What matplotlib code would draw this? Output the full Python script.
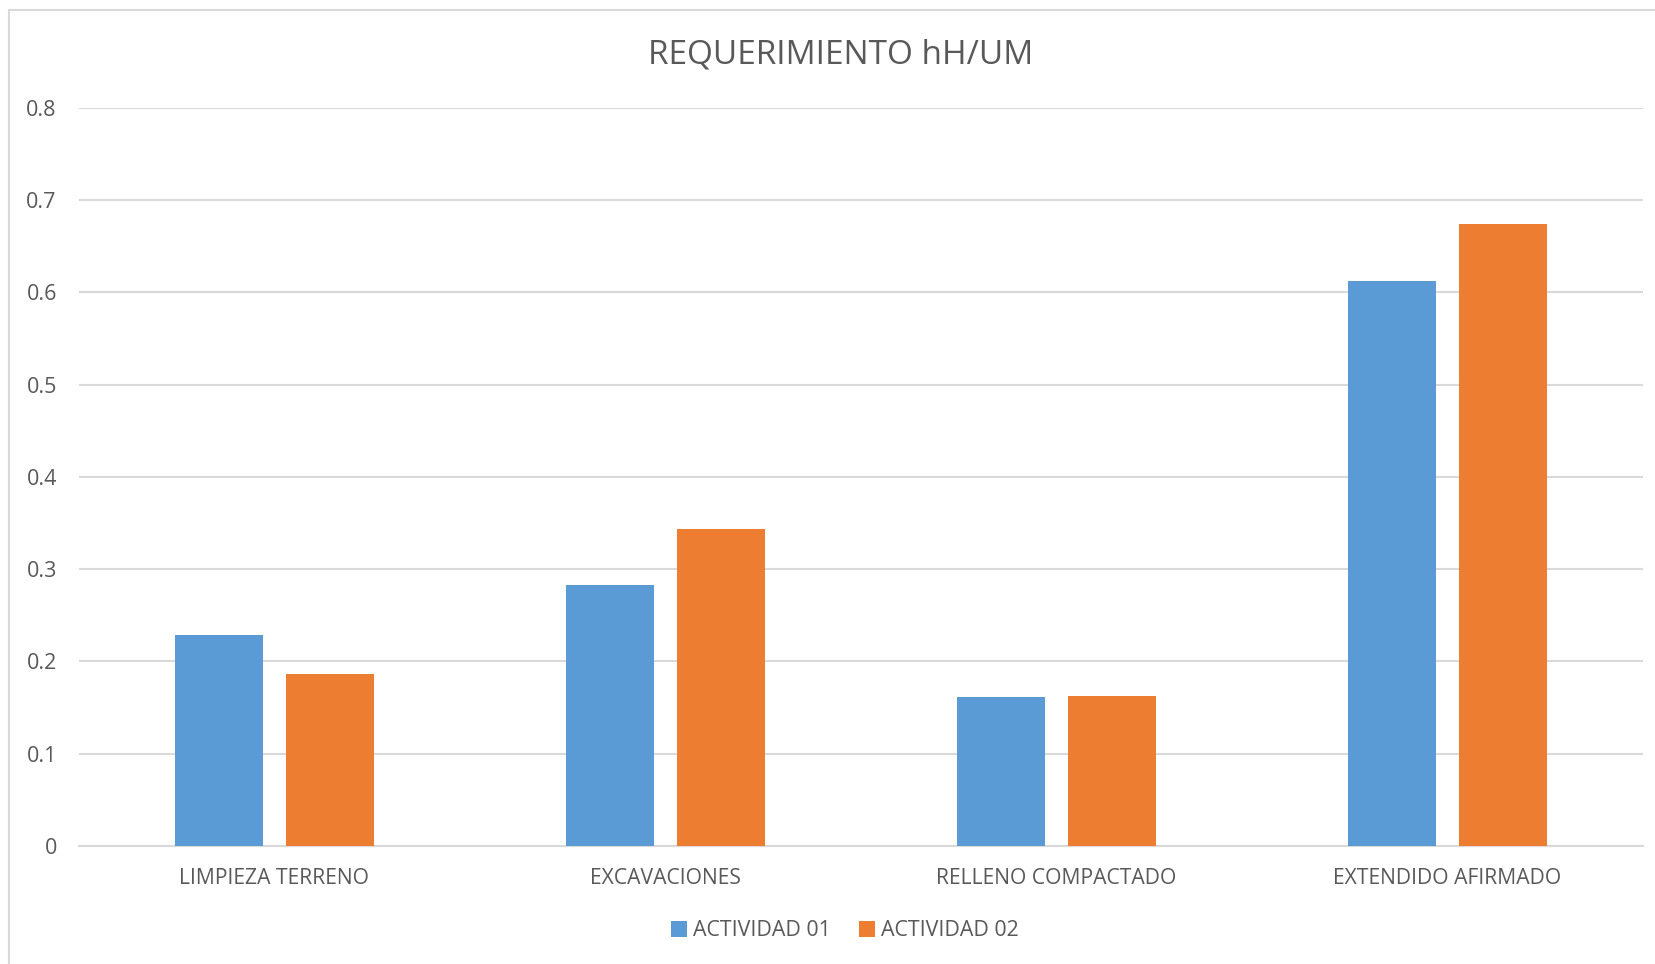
import matplotlib
matplotlib.use("Agg")
import matplotlib.pyplot as plt
import numpy as np
from matplotlib.patches import Rectangle

categories = ["LIMPIEZA TERRENO", "EXCAVACIONES", "RELLENO COMPACTADO", "EXTENDIDO AFIRMADO"]
actividad_01 = [0.229, 0.283, 0.161, 0.612]
actividad_02 = [0.186, 0.343, 0.162, 0.674]
series_names = ["ACTIVIDAD 01", "ACTIVIDAD 02"]
yticks = [0, 0.1, 0.2, 0.3, 0.4, 0.5, 0.6, 0.7, 0.8]
ytick_labels = ["0", "0.1", "0.2", "0.3", "0.4", "0.5", "0.6", "0.7", "0.8"]
title = "REQUERIMIENTO hH/UM"

plt.rcParams['font.family'] = ['Open Sans', 'DejaVu Sans']
txt = "#595959"
blue = "#5B9BD5"
orange = "#ED7D31"

W, H = 1656, 964
fig = plt.figure(figsize=(W/100, H/100), dpi=100)
fig.patch.set_facecolor("white")

# chart frame
fig.patches.append(Rectangle((9/W, 0 - 0.01), 1.0, 1 - 10/H + 0.01, transform=fig.transFigure,
                             fill=False, edgecolor="#D9D9D9", linewidth=1.5))

left, right = 79/W, 1643/W
bottom, top = 1 - 846/H, 1 - 107.7/H
ax = fig.add_axes([left, bottom, right-left, top-bottom])

x = np.arange(len(categories))
w = 0.224
off = 0.142
ax.bar(x - off, actividad_01, w, color=blue, label=series_names[0], zorder=3)
ax.bar(x + off, actividad_02, w, color=orange, label=series_names[1], zorder=3)

ax.set_xlim(-0.5, len(categories) - 0.5)
ax.set_ylim(0, 0.8)
ax.set_yticks(yticks)
ax.set_yticklabels(ytick_labels)
ax.set_xticks(x)
ax.set_xticklabels(categories)
ax.grid(axis="y", color="#D9D9D9", linewidth=1.5, zorder=0)
for s in ["top", "right", "left"]:
    ax.spines[s].set_visible(False)
ax.spines["bottom"].set_color("#D9D9D9")
ax.spines["bottom"].set_linewidth(1.5)
ax.tick_params(axis="both", length=0, colors=txt)
ax.tick_params(axis="y", pad=16, labelsize=15.5)
ax.tick_params(axis="x", pad=16, labelsize=15.2)
for lab in ax.get_yticklabels():
    lab.set_horizontalalignment("right")

fig.text(841/W, 1 - 55/H, title, ha="center", va="center", fontsize=24, color=txt)

leg = fig.legend(loc="center", bbox_to_anchor=(845/W, 1 - 931/H), ncol=2, frameon=False,
                 fontsize=15.4, handlelength=0.75, handleheight=0.75, handletextpad=0.3,
                 columnspacing=1.3)
for t in leg.get_texts():
    t.set_color(txt)

fig.savefig("out.png", dpi=100)
